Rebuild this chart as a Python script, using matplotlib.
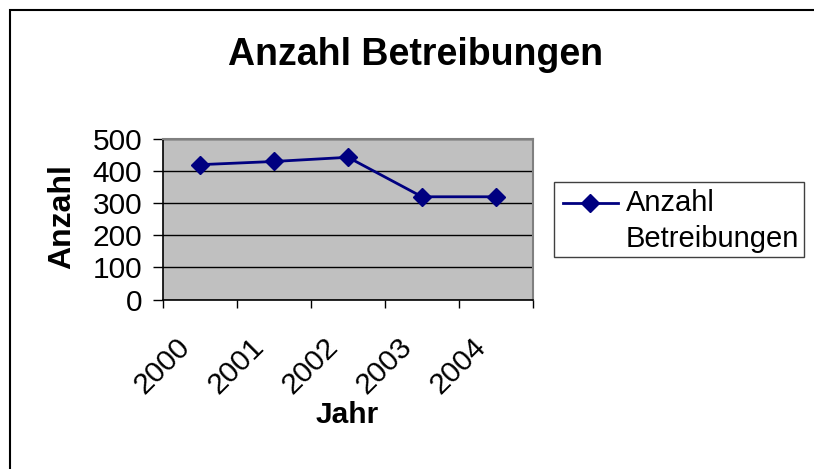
import matplotlib
matplotlib.use("Agg")
import matplotlib.pyplot as plt
import matplotlib.transforms as mtransforms
from matplotlib.patches import Rectangle
from matplotlib.lines import Line2D

plt.rcParams['font.family'] = ['Liberation Sans', 'DejaVu Sans']

years = ['2000', '2001', '2002', '2003', '2004']
anzahl = [420, 430, 443, 320, 320]
y_ticks = [0, 100, 200, 300, 400, 500]

W, H = 814, 469
navy = '#000080'

fig = plt.figure(figsize=(W / 100, H / 100), dpi=100)
fig.patch.set_facecolor('white')


def fx(px):
    return px / W


def fy(py):
    return 1 - py / H


# outer chart frame (right/bottom edges run off the image)
fig.patches.append(Rectangle((fx(10), -0.1), 1.2, fy(10) + 0.1,
                             transform=fig.transFigure, fill=False,
                             edgecolor='black', linewidth=1.5))

ax = fig.add_axes([fx(163), fy(299.5), fx(533) - fx(163), fy(139) - fy(299.5)])
ax.set_facecolor('#C0C0C0')

x = list(range(len(years)))
ax.plot(x, anzahl, color=navy, linewidth=2.0, marker='D', markersize=9.5,
        markerfacecolor=navy, markeredgecolor=navy, zorder=3)

ax.set_xlim(-0.5, len(years) - 0.5)
ax.set_ylim(0, 500)
ax.set_yticks(y_ticks)
ax.set_yticklabels([str(v) for v in y_ticks], fontsize=21.5)
ax.yaxis.grid(True, color='black', linewidth=1.0)
ax.set_axisbelow(True)

# category boundary ticks, labels at category centres
ax.set_xticks([i - 0.5 for i in range(len(years) + 1)])
ax.set_xticklabels([])
ax.set_xticks(x, minor=True)
ax.set_xticklabels(years, minor=True, fontsize=21.5, rotation=45,
                   ha='right', va='top', rotation_mode='anchor')
ax.tick_params(axis='x', which='major', length=6, width=1, direction='out')
ax.tick_params(axis='x', which='minor', length=0, pad=24)
ax.tick_params(axis='y', length=7, width=1, direction='out', pad=8)
off = mtransforms.ScaledTranslation(-24 / 100, 0, fig.dpi_scale_trans)
for lab in ax.get_xticklabels(minor=True):
    lab.set_transform(lab.get_transform() + off)

for s in ['left', 'bottom']:
    ax.spines[s].set_color('black')
    ax.spines[s].set_linewidth(1.2)
for s in ['top', 'right']:
    ax.spines[s].set_color('#808080')
    ax.spines[s].set_linewidth(1.5)

fig.text(fx(416), fy(55), 'Anzahl Betreibungen', fontsize=27,
         fontweight='bold', ha='center', va='center')
fig.text(fx(62), fy(217), 'Anzahl', fontsize=23, fontweight='bold',
         rotation=90, ha='center', va='center')
fig.text(fx(347), fy(415), 'Jahr', fontsize=21.5, fontweight='bold',
         ha='center', va='center')

# legend box
fig.patches.append(Rectangle((fx(554), fy(257)), fx(804) - fx(554), fy(182) - fy(257),
                             transform=fig.transFigure, fill=False,
                             edgecolor='#404040', linewidth=1.0))
fig.lines.append(Line2D([fx(563), fx(618)], [fy(203), fy(203)],
                        transform=fig.transFigure, color=navy, linewidth=2.0))
fig.lines.append(Line2D([fx(590)], [fy(203)], transform=fig.transFigure,
                        marker='D', markersize=9.5, color=navy))
fig.text(fx(626), fy(203), 'Anzahl', fontsize=21, ha='left', va='center')
fig.text(fx(626), fy(239), 'Betreibungen', fontsize=21, ha='left', va='center')

fig.savefig('out.png', dpi=100)
